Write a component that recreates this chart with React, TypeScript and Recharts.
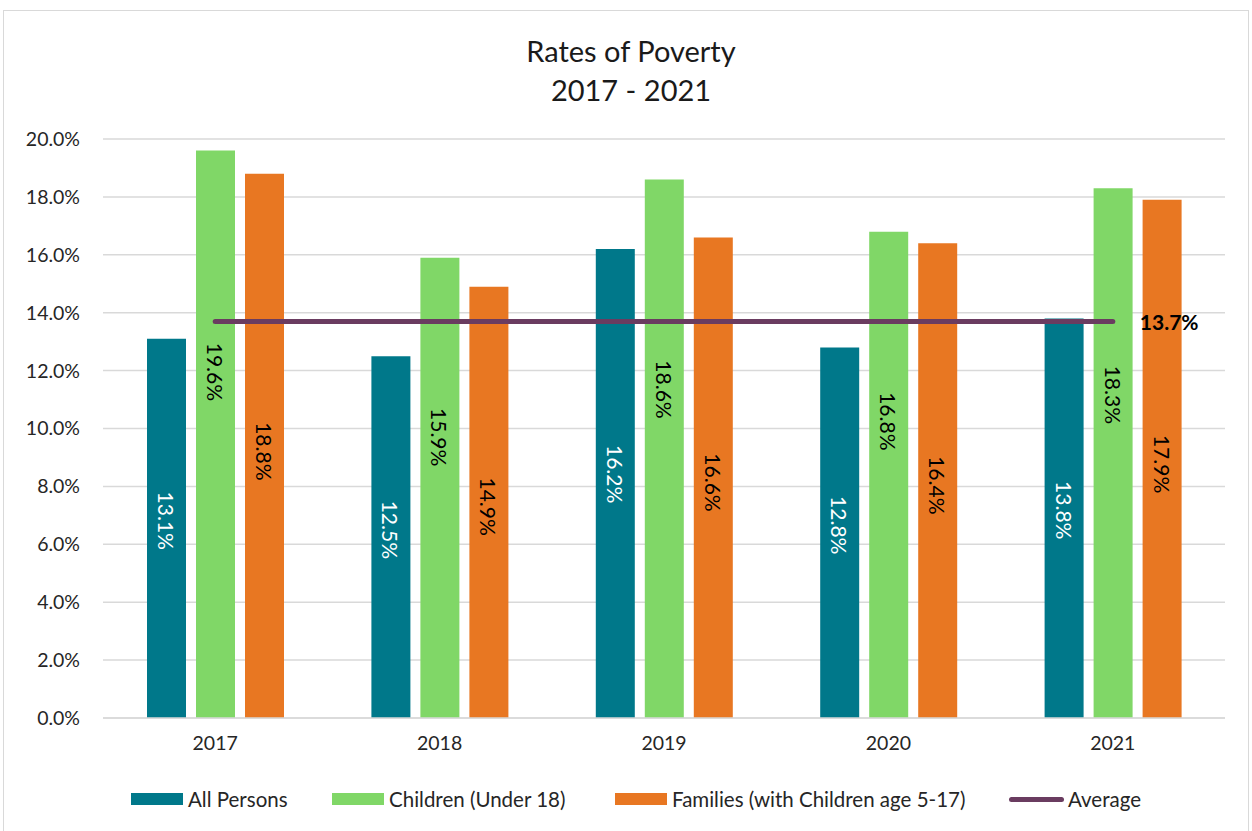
import React from "react";
import { ComposedChart, Bar, Line, XAxis, YAxis, CartesianGrid, LabelList } from "recharts";

const years = ["2017", "2018", "2019", "2020", "2021"];
const allPersons = [13.1, 12.5, 16.2, 12.8, 13.8];
const children = [19.6, 15.9, 18.6, 16.8, 18.3];
const families = [18.8, 14.9, 16.6, 16.4, 17.9];
const average = [13.7, 13.7, 13.7, 13.7, 13.7];
const yTicks = [0, 2, 4, 6, 8, 10, 12, 14, 16, 18, 20];

const data = years.map((y, i) => ({
  year: y,
  all: allPersons[i],
  children: children[i],
  families: families[i],
  avg: average[i],
}));

const TEAL = "#00788A";
const GREEN = "#80D767";
const ORANGE = "#E87722";
const PURPLE = "#6A3C60";
const FONT = "Lato, 'Open Sans', sans-serif";

const makeBarLabel = (color: string, frac: number) => (props: any) => {
  const { x, y, width, height, value } = props;
  const cx = x + width / 2;
  const cy = y + height * frac;
  return (
    <text
      x={cx}
      y={cy}
      transform={`rotate(90, ${cx}, ${cy})`}
      textAnchor="middle"
      dominantBaseline="central"
      fill={color}
      fontSize={21}
      fontFamily={FONT}
    >
      {Number(value).toFixed(1)}%
    </text>
  );
};

const avgLabel = (props: any) => {
  const { x, y, index, value } = props;
  if (index !== years.length - 1) return null;
  return (
    <text
      x={x + 27}
      y={y}
      dominantBaseline="central"
      fill="#000"
      fontSize={21}
      fontWeight="bold"
      fontFamily={FONT}
    >
      {Number(value).toFixed(1)}%
    </text>
  );
};

const legendItems = [
  { name: "All Persons", color: TEAL, line: false, left: 131 },
  { name: "Children (Under 18)", color: GREEN, line: false, left: 332 },
  { name: "Families (with Children age 5-17)", color: ORANGE, line: false, left: 615 },
  { name: "Average", color: PURPLE, line: true, left: 1009 },
];

export default function App() {
  return (
    <div style={{ position: "absolute", left: 0, top: 0, width: 1252, height: 831, background: "#fff", overflow: "hidden", fontFamily: FONT }}>
      <div style={{ position: "absolute", left: 3, top: 10, width: 1246, height: 840, border: "1px solid #d9d9d9", boxSizing: "border-box" }} />
      <div style={{ position: "absolute", left: 0, top: 31, width: 1262, textAlign: "center", fontSize: 29, lineHeight: "39px", color: "#1a1a1a" }}>
        <div>Rates of Poverty</div>
        <div>2017 - 2021</div>
      </div>
      <div style={{ position: "absolute", left: 0, top: 0 }}>
        <ComposedChart
          width={1252}
          height={831}
          data={data}
          margin={{ top: 139, right: 27, bottom: 83, left: 0 }}
          barSize={39}
          barGap={10}
        >
          <CartesianGrid vertical={false} stroke="#d9d9d9" strokeWidth={1.5} />
          <XAxis
            dataKey="year"
            height={30}
            tickLine={false}
            axisLine={{ stroke: "#d9d9d9", strokeWidth: 1.5 }}
            tickSize={0}
            tickMargin={18}
            tick={{ fill: "#262626", fontSize: 19.5, fontFamily: FONT }}
          />
          <YAxis
            width={103}
            domain={[0, 20]}
            ticks={yTicks}
            tickLine={false}
            axisLine={false}
            tickSize={0}
            tickMargin={23}
            tickFormatter={(v: number) => `${v.toFixed(1)}%`}
            tick={{ fill: "#262626", fontSize: 19.5, fontFamily: FONT }}
          />
          <Bar dataKey="all" fill={TEAL} isAnimationActive={false}>
            <LabelList dataKey="all" content={makeBarLabel("#ffffff", 0.48)} />
          </Bar>
          <Bar dataKey="children" fill={GREEN} isAnimationActive={false}>
            <LabelList dataKey="children" content={makeBarLabel("#000000", 0.39)} />
          </Bar>
          <Bar dataKey="families" fill={ORANGE} isAnimationActive={false}>
            <LabelList dataKey="families" content={makeBarLabel("#000000", 0.51)} />
          </Bar>
          <Line
            dataKey="avg"
            stroke={PURPLE}
            strokeWidth={5}
            strokeLinecap="round"
            dot={false}
            activeDot={false}
            isAnimationActive={false}
            label={avgLabel}
          />
        </ComposedChart>
      </div>
      {legendItems.map((it) => (
        <div key={it.name} style={{ position: "absolute", left: it.left, top: 785, height: 28, display: "flex", alignItems: "center", fontSize: 20.5, color: "#262626", whiteSpace: "nowrap" }}>
          {it.line ? (
            <div style={{ width: 55, height: 5, borderRadius: 3, background: it.color, marginRight: 4 }} />
          ) : (
            <div style={{ width: 52, height: 12, background: it.color, marginRight: 5 }} />
          )}
          <span>{it.name}</span>
        </div>
      ))}
    </div>
  );
}
